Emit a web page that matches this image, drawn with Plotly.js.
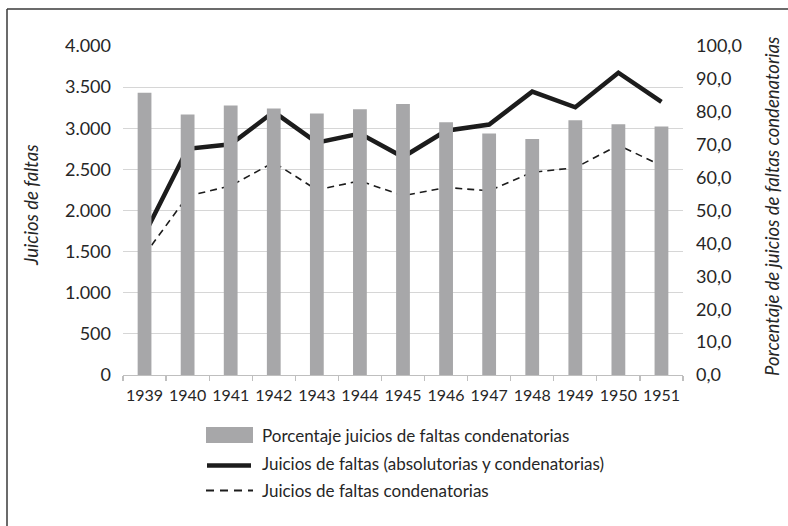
<!DOCTYPE html>
<html>
<head>
<meta charset="utf-8">
<script src="https://cdn.plot.ly/plotly-3.0.1.min.js"></script>
<style>
  html, body { margin: 0; padding: 0; background: #ffffff; }
  #chart { width: 788px; height: 526px; }
</style>
</head>
<body>
<div id="chart"></div>
<script>
// ---- data ----
const years = ['1939','1940','1941','1942','1943','1944','1945','1946','1947','1948','1949','1950','1951'];
const pctCondenatorias = [85.8, 79.2, 81.9, 81.0, 79.5, 80.8, 82.4, 76.8, 73.4, 71.7, 77.4, 76.2, 75.5];
const juiciosTotales = [1710, 2750, 2805, 3200, 2825, 2935, 2650, 2970, 3045, 3445, 3255, 3675, 3320];
const juiciosCondenatorios = [1460, 2175, 2300, 2585, 2250, 2360, 2180, 2280, 2240, 2465, 2520, 2795, 2545];

const seriesNames = [
  'Porcentaje juicios de faltas condenatorias',
  'Juicios de faltas (absolutorias y condenatorias)',
  'Juicios de faltas condenatorias'
];

const FONT = 'Lato, "Open Sans", sans-serif';
const TXT = '#262626';

// plot area geometry in pixels
const W = 788, H = 526, L = 123, R = 683, T = 46, B = 375;
const px = x => (x - L) / (R - L);
const py = y => (B - y) / (B - T);

const traces = [
  {
    type: 'bar', x: years, y: pctCondenatorias, yaxis: 'y2', name: seriesNames[0],
    marker: { color: '#a7a7a9' }, showlegend: false, hoverinfo: 'x+y'
  },
  {
    type: 'scatter', mode: 'lines', x: years, y: juiciosTotales, name: seriesNames[1],
    line: { color: '#1c1c1c', width: 4.5 }, showlegend: false
  },
  {
    type: 'scatter', mode: 'lines', x: years, y: juiciosCondenatorios, name: seriesNames[2],
    line: { color: '#1c1c1c', width: 1.6, dash: '7px,5px' }, showlegend: false
  }
];

// manual legend (swatches + text)
const legendRows = [ { y: 435 }, { y: 463 }, { y: 490 } ];
const shapes = [
  { type: 'line', xref: 'paper', yref: 'paper', x0: px(7), x1: px(7), y0: py(9), y1: py(526), line: { color: '#3a3a3a', width: 1.5 } },
  { type: 'line', xref: 'paper', yref: 'paper', x0: px(7), x1: px(788), y0: py(9), y1: py(9), line: { color: '#3a3a3a', width: 1.5 } },
  { type: 'rect', xref: 'paper', yref: 'paper', x0: px(206), x1: px(253), y0: py(427), y1: py(443), fillcolor: '#a7a7a9', line: { width: 0 } },
  { type: 'line', xref: 'paper', yref: 'paper', x0: px(207), x1: px(251), y0: py(465.5), y1: py(465.5), line: { color: '#1c1c1c', width: 4.5 } },
  { type: 'line', xref: 'paper', yref: 'paper', x0: px(206), x1: px(253), y0: py(490.5), y1: py(490.5), line: { color: '#1c1c1c', width: 1.8, dash: '8px,6px' } }
];

const annotations = [
  { xref: 'paper', yref: 'paper', x: px(31), y: py(205), text: 'Juicios de faltas', textangle: -90,
    showarrow: false, font: { family: FONT, size: 18.5, color: TXT, style: 'italic' }, xanchor: 'center', yanchor: 'middle' },
  { xref: 'paper', yref: 'paper', x: px(772), y: py(207), text: 'Porcentaje de juicios de faltas condenatorias', textangle: -90,
    showarrow: false, font: { family: FONT, size: 18.5, color: TXT, style: 'italic' }, xanchor: 'center', yanchor: 'middle' }
];
seriesNames.forEach((n, i) => {
  annotations.push({ xref: 'paper', yref: 'paper', x: px(260), y: py(legendRows[i].y), text: n, showarrow: false,
    xanchor: 'left', yanchor: 'middle', font: { family: FONT, size: 17, color: TXT } });
});

const layout = {
  width: W, height: H,
  margin: { l: L, r: W - R, t: T, b: H - B, pad: 0 },
  paper_bgcolor: '#ffffff', plot_bgcolor: '#ffffff',
  separators: ',.',
  font: { family: FONT, color: TXT },
  showlegend: false,
  bargap: 0.68,
  xaxis: {
    type: 'category', showline: true, linecolor: '#bfbfbf', linewidth: 1.3,
    ticks: 'outside', tickson: 'boundaries', ticklen: 5, tickcolor: '#bfbfbf', tickwidth: 1.3,
    showgrid: false, tickangle: 0, ticklabelstandoff: 5,
    tickfont: { family: FONT, size: 16, color: TXT }, zeroline: false
  },
  yaxis: {
    range: [0, 4000], dtick: 500, tickformat: ',d', showgrid: true, gridcolor: '#d6d6d6', gridwidth: 1.2,
    zeroline: false, showline: false, ticks: '', ticklabelstandoff: 11,
    tickfont: { family: FONT, size: 18, color: TXT }
  },
  yaxis2: {
    overlaying: 'y', side: 'right', range: [0, 100], dtick: 10, tickformat: '.1f',
    showgrid: false, zeroline: false, showline: false, ticks: '', ticklabelstandoff: 12,
    tickfont: { family: FONT, size: 18, color: TXT }
  },
  shapes: shapes,
  annotations: annotations
};

Plotly.newPlot('chart', traces, layout, { displayModeBar: false, staticPlot: true });
</script>
</body>
</html>
